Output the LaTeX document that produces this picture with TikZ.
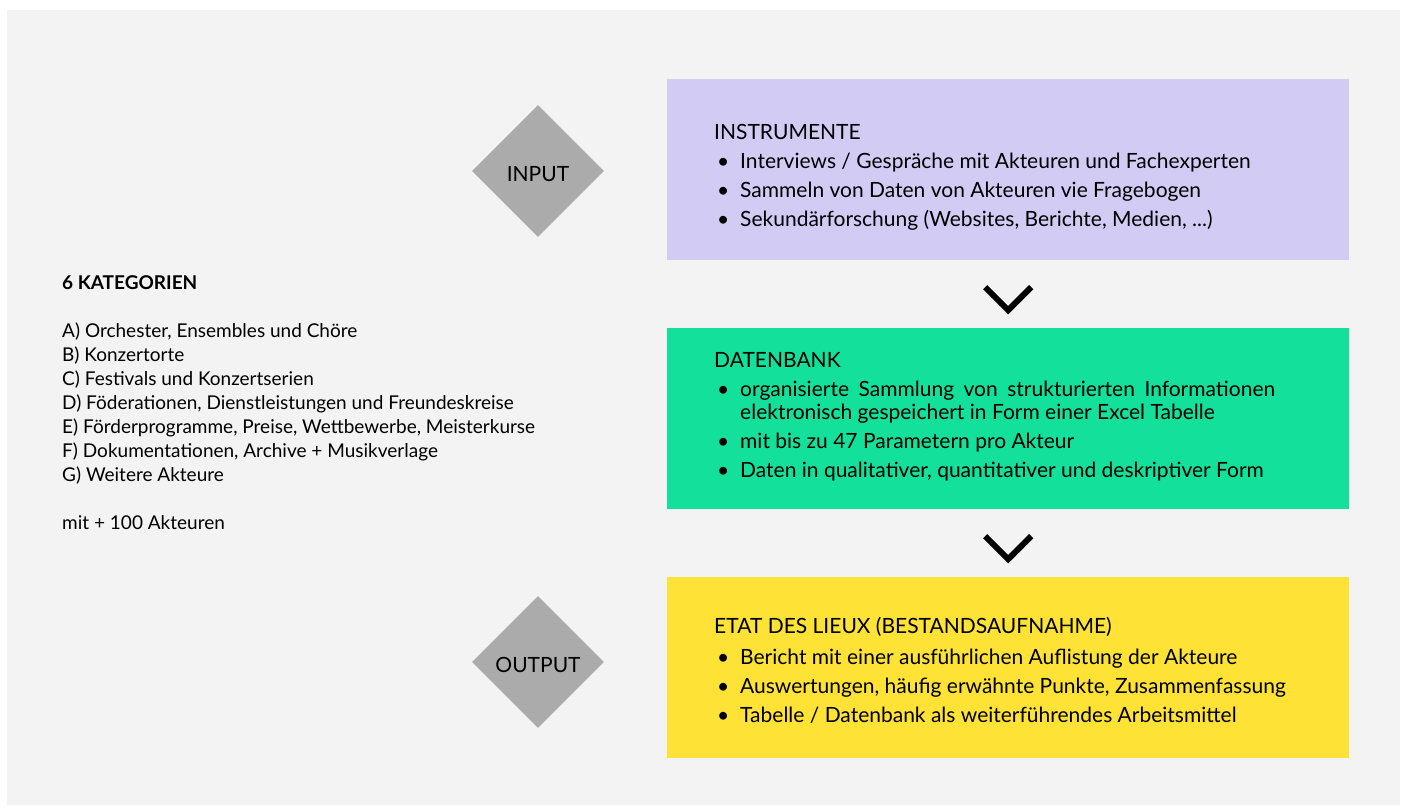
\documentclass[tikz,border=0pt]{standalone}
\usepackage{fontspec}
\setmainfont{Lato}
\usetikzlibrary{shapes.geometric,calc}

\definecolor{hintergrund}{HTML}{F2F3F2}
\definecolor{lila}{HTML}{D2CCF5}
\definecolor{gruen}{HTML}{13E09A}
\definecolor{gelb}{HTML}{FEE235}
\definecolor{grau}{HTML}{ABABAB}

% bullet item with hanging indent
\newcommand{\punkt}{\par\hangindent=26pt\hangafter=1\noindent\makebox[26pt][l]{\hspace{3pt}\textbullet}}

\tikzset{
  kasten/.style={rectangle, minimum width=682pt, minimum height=181pt, inner sep=0pt, anchor=north west},
  inhalt/.style={anchor=north west, inner sep=0pt, text width=600pt, align=justify,
    font={\fontsize{21}{23}\selectfont\setlength{\parskip}{6pt}}},
  raute/.style={diamond, fill=grau, minimum width=132pt, minimum height=132pt, inner sep=0pt,
    text height=20pt, text depth=0pt, font=\fontsize{21}{23}\selectfont},
  pfeil/.style={line width=6pt, line cap=butt, line join=miter}
}

\begin{document}
\begin{tikzpicture}[x=1pt, y=-1pt]
	\fill[hintergrund] (7,10) rectangle (1400,805);
	\useasboundingbox (0,0) rectangle (1405,807);

	% the three boxes
	\node[kasten, fill=lila] (instrumente) at (667,79) {};
	\node[kasten, fill=gruen] (datenbank) at (667,328) {};
	\node[kasten, fill=gelb] (etat) at (667,577) {};

	\node[inhalt] (instrtext) at (714,124) {INSTRUMENTE
		\punkt Interviews / Gespräche mit Akteuren und Fachexperten
		\punkt Sammeln von Daten von Akteuren vie Fragebogen
		\punkt Sekundärforschung (Websites, Berichte, Medien, ...)};
	\node[inhalt, text width=561pt] (datentext) at (714,352) {DATENBANK
		\punkt organisierte Sammlung von strukturierten Informationen\linebreak elektronisch gespeichert in Form einer Excel Tabelle
		\punkt mit bis zu 47 Parametern pro Akteur
		\punkt Daten in qualitativer, quantitativer und deskriptiver Form};
	\node[inhalt] (etattext) at (714,617) {ETAT DES LIEUX (BESTANDSAUFNAHME)\par\vspace{2pt}
		\punkt Bericht mit einer ausführlichen Auflistung der Akteure
		\punkt Auswertungen, häufig erwähnte Punkte, Zusammenfassung
		\punkt Tabelle / Datenbank als weiterführendes Arbeitsmittel};

	% input / output
	\node[raute] (input) at (538,171) {INPUT};
	\node[raute] (output) at (538,662) {OUTPUT};

	% categories
	\node[anchor=north west, inner sep=0pt, align=left, font=\fontsize{19}{24}\selectfont] (kategorien) at (62,275)
		{\textbf{6 KATEGORIEN}\\[24pt]
		A) Orchester, Ensembles und Chöre\\
		B) Konzertorte\\
		C) Festivals und Konzertserien\\
		D) Föderationen, Dienstleistungen und Freundeskreise\\
		E) Förderprogramme, Preise, Wettbewerbe, Meisterkurse\\
		F) Dokumentationen, Archive + Musikverlage\\
		G) Weitere Akteure\\[24pt]
		mit + 100 Akteuren};

	% chevrons between the boxes
	\coordinate (m1) at ($(instrumente.south)!0.5!(datenbank.north)$);
	\coordinate (m2) at ($(datenbank.south)!0.5!(etat.north)$);
	\draw[pfeil] ([shift={(-23,-7)}]m1) -- ++(23,23) -- ++(23,-23);
	\draw[pfeil] ([shift={(-23,-7)}]m2) -- ++(23,23) -- ++(23,-23);
\end{tikzpicture}
\end{document}
